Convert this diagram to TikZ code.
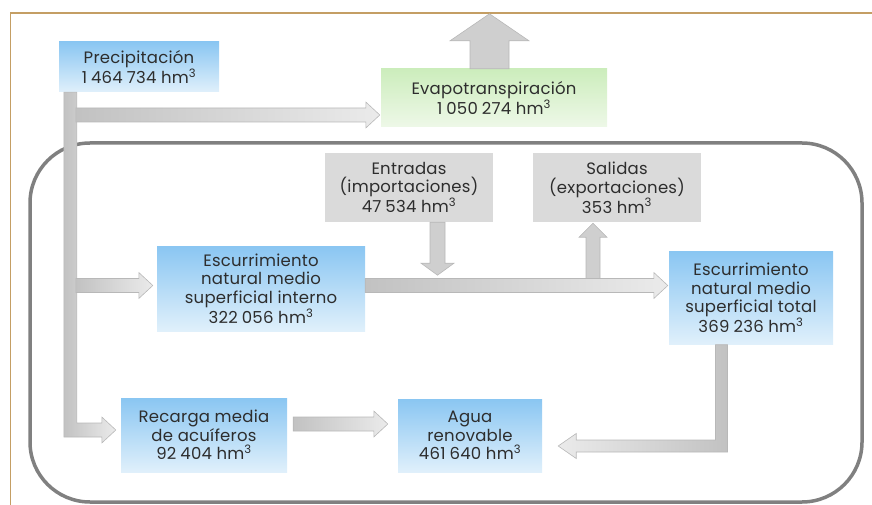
\documentclass[tikz,border=0pt]{standalone}
\usepackage{fontspec}
\setmainfont{Poppins}[LetterSpace=1.5]
\usetikzlibrary{calc}

\definecolor{marron}{RGB}{196,158,100}
\definecolor{azularriba}{RGB}{138,198,242}
\definecolor{azulabajo}{RGB}{224,240,251}
\definecolor{verdearriba}{RGB}{204,237,188}
\definecolor{verdeabajo}{RGB}{238,248,232}
\definecolor{grisclaro}{RGB}{218,218,218}
\definecolor{texto}{RGB}{45,45,45}

\newcommand{\mil}{\kern4pt}

\tikzset{
  caja/.style={align=center, inner sep=0pt, text=texto, font=\fontsize{16.5}{18.7}\selectfont},
  azul/.style={caja, top color=azularriba, bottom color=azulabajo},
  verde/.style={caja, top color=verdearriba, bottom color=verdeabajo},
  gris/.style={caja, fill=grisclaro},
  flecha/.style={draw=black!28, line width=0.6pt, left color=black!24, right color=black!8},
  flechaizq/.style={draw=black!28, line width=0.6pt, left color=black!8, right color=black!24},
  flechav/.style={draw=black!28, line width=0.6pt, fill=black!19},
}

% block arrow to the right: tail, tip
\newcommand{\flechader}[2]{%
  \draw[flecha] let \p1=#1, \p2=#2 in
    (\x1,\y1+7pt) -- (\x2-14pt,\y1+7pt) -- (\x2-14pt,\y1+13pt) -- (\x2,\y1)
    -- (\x2-14pt,\y1-13pt) -- (\x2-14pt,\y1-7pt) -- (\x1,\y1-7pt) -- cycle;}
% block arrow up or down: tail, tip, half shaft, half head, head length
\newcommand{\flechavert}[5]{%
  \draw[flechav] let \p1=#1, \p2=#2, \n1={sign(\y1-\y2)} in
    ({\x1-#3},\y1) -- ({\x1-#3},{\y2+(\n1)*#5}) -- ({\x1-#4},{\y2+(\n1)*#5}) -- (\x1,\y2)
    -- ({\x1+#4},{\y2+(\n1)*#5}) -- ({\x1+#3},{\y2+(\n1)*#5}) -- ({\x1+#3},\y1) -- cycle;}

\begin{document}
\begin{tikzpicture}[x=1pt,y=-1pt]
\useasboundingbox (0,0) rectangle (872,505);
\draw[marron, line width=1.5pt] (10.5,505) -- (10.5,13) -- (872,13);
\draw[black!50, line width=3.5pt, rounded corners=60] (30,143) rectangle (862,502);

\node[azul, minimum width=160, minimum height=50] (prec) at (139,67) {Precipitación\\1\mil464\mil734 hm\textsuperscript{3}};
\node[verde, minimum width=226, minimum height=58] (evap) at (494,98) {Evapotranspiración\\1\mil050\mil274 hm\textsuperscript{3}};
\node[gris, minimum width=168, minimum height=69] (entr) at (409,187.5) {Entradas\\(importaciones)\\47\mil534 hm\textsuperscript{3}};
\node[gris, minimum width=168, minimum height=69] (sal) at (617,187.5) {Salidas\\(exportaciones)\\353 hm\textsuperscript{3}};
\node[azul, minimum width=208, minimum height=85] (esci) at (261,288.5) {Escurrimiento\\natural medio\\superficial interno\\322\mil056 hm\textsuperscript{3}};
\node[azul, minimum width=164, minimum height=93] (esct) at (751,298) {Escurrimiento\\natural medio\\superficial total\\369\mil236 hm\textsuperscript{3}};
\node[azul, minimum width=166, minimum height=74] (rec) at (204,435) {Recarga media\\de acuíferos\\92\mil404 hm\textsuperscript{3}};
\node[azul, minimum width=144, minimum height=73] (agua) at (470,435.5) {Agua\\renovable\\461\mil640 hm\textsuperscript{3}};

% precipitation trunk down to recarga
\coordinate (tronco) at ($(prec.south west)+(11.5,0)$);
\draw[flecha] let \p1=(tronco), \p2=($(rec.west)+(-5,-5)$) in
  (\x1-6.5pt,\y1) -- (\x1+6.5pt,\y1) -- (\x1+6.5pt,\y2+7pt) -- (\x2-14pt,\y2+7pt)
  -- (\x2-14pt,\y2+13pt) -- (\x2,\y2) -- (\x2-14pt,\y2-13pt) -- (\x2-14pt,\y2-7pt)
  -- (\x1-6.5pt,\y2-7pt) -- cycle;
\flechader{($(tronco |- evap.west)+(5.5,17)$)}{($(evap.west)+(-1,17)$)}
\flechader{($(tronco |- esci.west)+(5.5,-3)$)}{($(esci.west)+(-4,-3)$)}

% evapotranspiration out
\flechavert{($(evap.north)+(-4.5,0)$)}{($(evap.north)+(-4.5,-55)$)}{19.5pt}{39.5pt}{27pt}

% imports, exports and the main flow
\flechavert{($(sal.south)+(-24,57)$)}{($(sal.south)+(-24,1)$)}{7pt}{14pt}{14pt}
\flechader{($(esci.east)+(0,-3)$)}{($(esci.east -| esct.west)+(-1,-3)$)}
\flechavert{($(entr.south)+(28.5,0)$)}{($(entr.south)+(28.5,53)$)}{7.5pt}{16.5pt}{12pt}

% to agua renovable
\flechader{($(rec.east)+(6,-11)$)}{($(agua.west)+(-10,-11)$)}
\draw[flechaizq] let \p1=($(esct.south)+(-29.5,0)$), \p2=($(agua.east)+(16,10.5)$) in
  (\x1-6pt,\y1) -- (\x1+6pt,\y1) -- (\x1+6pt,\y2-6pt) -- (\x2+18pt,\y2-6pt)
  -- (\x2+18pt,\y2-12.5pt) -- (\x2,\y2) -- (\x2+18pt,\y2+12.5pt) -- (\x2+18pt,\y2+6pt)
  -- (\x1-6pt,\y2+6pt) -- cycle;
\end{tikzpicture}
\end{document}
